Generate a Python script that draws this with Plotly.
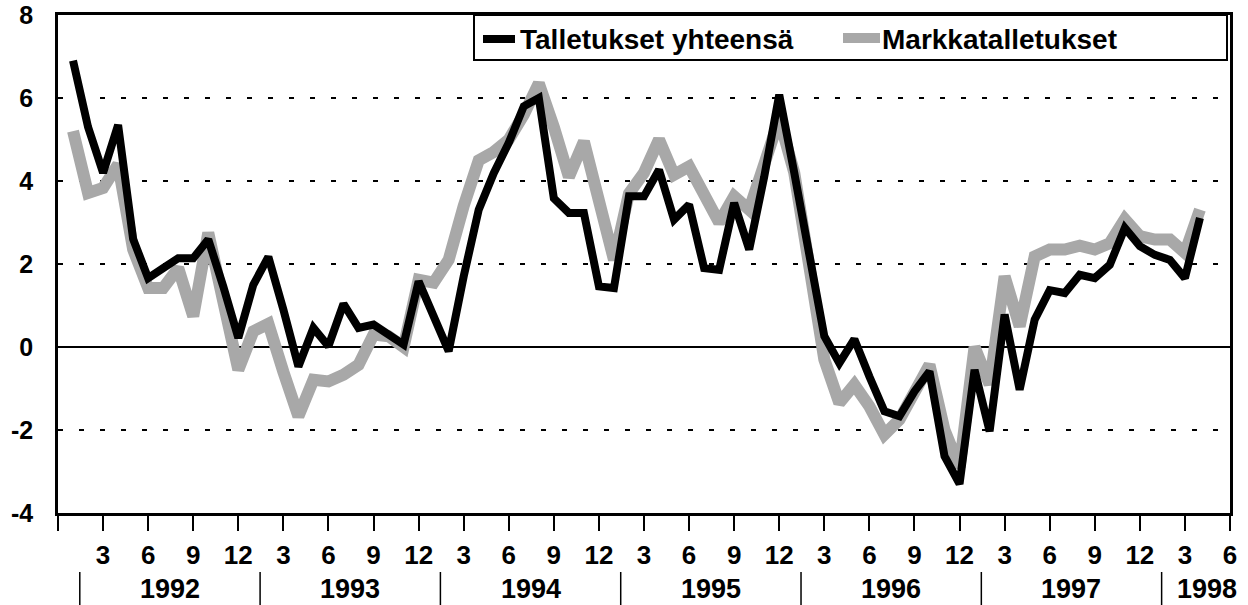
import plotly.graph_objects as go

# Months since Dec 1991 (1 = Jan 1992 ... 76 = Apr 1998)
months = list(range(1, 77))

talletukset_yhteensa = [
    6.9, 5.3, 4.2, 5.35, 2.6, 1.66, 1.9, 2.14, 2.14, 2.59, 1.46, 0.22,
    1.5, 2.17, 0.9, -0.47, 0.46, 0.02, 1.04, 0.46, 0.54, 0.3, 0.06, 1.58,
    0.75, -0.1, 1.7, 3.31, 4.19, 4.92, 5.8, 6.0, 3.58, 3.23, 3.23, 1.46,
    1.42, 3.63, 3.63, 4.27, 3.07, 3.43, 1.9, 1.86, 3.47, 2.35, 4.1, 6.08,
    4.2, 2.3, 0.26, -0.39, 0.19, -0.71, -1.55, -1.67, -1.07, -0.59, -2.63, -3.3,
    -0.55, -2.03, 0.78, -1.03, 0.66, 1.37, 1.3, 1.74, 1.66, 1.98, 2.87, 2.43,
    2.22, 2.1, 1.66, 3.11,
]

markkatalletukset = [
    5.2, 3.71, 3.83, 4.4, 2.35, 1.42, 1.42, 1.9, 0.74, 2.75, 1.1, -0.55,
    0.38, 0.56, -0.6, -1.67, -0.79, -0.83, -0.67, -0.43, 0.3, 0.26, 0.0, 1.62,
    1.55, 2.1, 3.4, 4.5, 4.7, 5.0, 5.6, 6.35, 5.3, 4.1, 4.95, 3.5,
    2.1, 3.7, 4.2, 5.0, 4.15, 4.35, 3.63, 3.0, 3.63, 3.31, 4.4, 5.5,
    4.2, 2.1, -0.3, -1.35, -0.91, -1.43, -2.11, -1.75, -1.03, -0.43, -2.0, -2.9,
    0.0, -0.9, 1.7, 0.5, 2.18, 2.35, 2.35, 2.44, 2.35, 2.5, 3.08, 2.67,
    2.59, 2.59, 2.27, 3.31,
]

years = ["1992", "1993", "1994", "1995", "1996", "1997", "1998"]
series_names = ["Talletukset yhteensä", "Markkatalletukset"]
y_ticks = [-4, -2, 0, 2, 4, 6, 8]

FONT = "Liberation Sans, Arial, sans-serif"
GREY = "#a8a8a8"

# plot area in pixels
L, R, T, B = 58, 1230, 15, 513
W, H = 1248, 605


def px_x(px):
    return (px - L) / (R - L)


def px_y(py):
    return (B - py) / (B - T)


fig = go.Figure()
fig.add_trace(go.Scatter(x=months, y=markkatalletukset, mode="lines",
                         line=dict(color=GREY, width=12), name=series_names[1],
                         showlegend=False))
fig.add_trace(go.Scatter(x=months, y=talletukset_yhteensa, mode="lines",
                         line=dict(color="black", width=8), name=series_names[0],
                         showlegend=False))

tickvals = list(range(0, 79, 3))
ticktext = ["" if m == 0 else str((m - 1) % 12 + 1) for m in tickvals]

fig.update_xaxes(range=[0, 78], tickvals=tickvals, ticktext=ticktext,
                 ticks="outside", ticklen=15, tickwidth=1.5, tickcolor="black",
                 showline=True, linecolor="black", linewidth=2.5, mirror=True,
                 showgrid=False, zeroline=False, automargin=False,
                 tickfont=dict(family=FONT, size=26, color="black", weight="bold"),
                 ticklabelstandoff=2)
fig.update_yaxes(range=[-4, 8], tickvals=y_ticks, ticktext=[str(v) for v in y_ticks],
                 showline=True, linecolor="black", linewidth=2.5, mirror=True,
                 showgrid=True, gridcolor="black", gridwidth=1.5, griddash="5px,16px",
                 zeroline=True, zerolinecolor="black", zerolinewidth=2, automargin=False,
                 tickfont=dict(family=FONT, size=25, color="black", weight="bold"),
                 ticklabelstandoff=17)

shapes = []
annotations = []
# year separators and labels
for i, yr in enumerate(years):
    sep = 1 + 12 * i + 0.45
    shapes.append(dict(type="line", xref="x", yref="paper", x0=sep, x1=sep,
                       y0=px_y(572), y1=px_y(606), line=dict(color="black", width=1.5)))
    center = sep + (6 if i < len(years) - 1 else 3)
    annotations.append(dict(x=center, y=px_y(589), xref="x", yref="paper", text=yr,
                            showarrow=False, xanchor="center", yanchor="middle",
                            font=dict(family=FONT, size=27, color="black", weight="bold")))

# legend box
shapes.append(dict(type="rect", xref="paper", yref="paper", x0=px_x(474), x1=px_x(1227),
                   y0=px_y(60), y1=px_y(15), line=dict(color="black", width=2),
                   fillcolor="white"))
shapes.append(dict(type="line", xref="paper", yref="paper", x0=px_x(483), x1=px_x(515),
                   y0=px_y(39), y1=px_y(39), line=dict(color="black", width=8)))
shapes.append(dict(type="line", xref="paper", yref="paper", x0=px_x(843), x1=px_x(880),
                   y0=px_y(38), y1=px_y(38), line=dict(color=GREY, width=10)))
annotations.append(dict(x=px_x(518), y=px_y(40), xref="paper", yref="paper",
                        text=series_names[0], showarrow=False, xanchor="left", yanchor="middle",
                        font=dict(family=FONT, size=28, color="black", weight="bold")))
annotations.append(dict(x=px_x(880), y=px_y(40), xref="paper", yref="paper",
                        text=series_names[1], showarrow=False, xanchor="left", yanchor="middle",
                        font=dict(family=FONT, size=28, color="black", weight="bold")))

fig.update_layout(width=W, height=H, margin=dict(l=L, r=W - R, t=T, b=H - B),
                  plot_bgcolor="white", paper_bgcolor="white",
                  shapes=shapes, annotations=annotations, showlegend=False)

fig.write_html("out.html", config={"displayModeBar": False},
               post_script="document.body.style.margin='0px';document.body.style.overflow='hidden';")
